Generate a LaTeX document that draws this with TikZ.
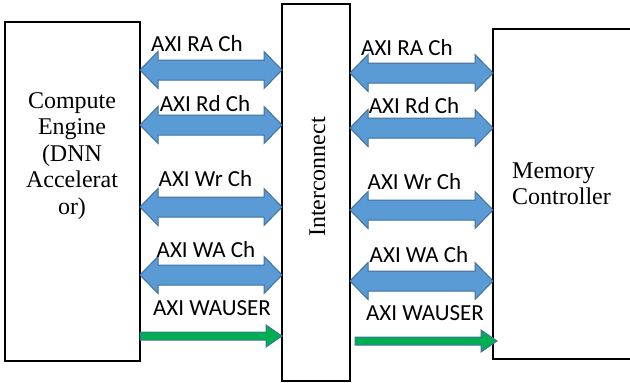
\documentclass[tikz,border=0pt]{standalone}
\usepackage{fontspec}
\setmainfont{Liberation Serif}
\newfontfamily\calfont{Carlito}
\usetikzlibrary{calc}
\definecolor{arrblue}{HTML}{5B9BD5}
\definecolor{arredge}{HTML}{41719C}
\definecolor{arrgreen}{HTML}{00B050}
\tikzset{
  box/.style={draw=black, line width=2pt, fill=white, inner sep=0pt, outer sep=0pt},
  serif/.style={font=\fontsize{24}{26.5}\selectfont, inner sep=0pt, align=center},
  chlabel/.style={font=\calfont\fontsize{23}{26}\selectfont, inner sep=0pt},
  bluearrow/.style={fill=arrblue, draw=arredge, line width=1pt, line join=miter},
  greenarrow/.style={fill=arrgreen, draw=arredge, line width=1pt, line join=miter},
}
% double arrow between x of #1 and x of #2 at height #3
\newcommand\dblarrow[3]{%
  \path[bluearrow] let \p1=($(#1)$), \p2=($(#2)$), \p3=(0,#3) in
   (\x1,\y3) -- (\x1+18pt,\y3+18.5pt) -- (\x1+18pt,\y3+10pt) -- (\x2-18pt,\y3+10pt)
   -- (\x2-18pt,\y3+18.5pt) -- (\x2,\y3) -- (\x2-18pt,\y3-18.5pt) -- (\x2-18pt,\y3-10pt)
   -- (\x1+18pt,\y3-10pt) -- (\x1+18pt,\y3-18.5pt) -- cycle;}
% single green arrow
\newcommand\grnarrow[3]{%
  \path[greenarrow] let \p1=($(#1)$), \p2=($(#2)$), \p3=(0,#3) in
   (\x1,\y3+4pt) -- (\x2-16pt,\y3+4pt) -- (\x2-16pt,\y3+11pt) -- (\x2,\y3)
   -- (\x2-16pt,\y3-11pt) -- (\x2-16pt,\y3-4pt) -- (\x1,\y3-4pt) -- cycle;}
\begin{document}
\begin{tikzpicture}[x=1pt,y=-1pt]
\useasboundingbox (0,0) rectangle (630,383);
% boxes
\node[box, minimum width=135pt, minimum height=339pt] (ce) at (72.5,191.5) {};
\node[box, minimum width=68pt, minimum height=377pt] (ic) at (316,192.5) {};
\coordinate (mcw) at (493,194);
\draw[black, line width=2pt] (645,29) -- (493,29) -- (493,359) -- (645,359);
% box texts
\node[serif] (cetext) at (72,156) {Compute\\Engine\\(DNN\\Accelerat\\or)};
\node[serif, rotate=90] (ictext) at (317.5,177) {Interconnect};
\node[serif, align=left, anchor=west] (mctext) at (512,184) {Memory\\Controller};
% left arrows
\coordinate (lA) at (142,0);
\coordinate (lB) at (284,0);
\coordinate (rA) at (350,0);
\coordinate (rB) at (493,0);
\dblarrow{ce.east}{ic.west}{70}
\dblarrow{ce.east}{ic.west}{125}
\dblarrow{ce.east}{ic.west}{207}
\dblarrow{ce.east}{ic.west}{275}
\grnarrow{ce.east}{ic.west}{336}
% right arrows
\dblarrow{ic.east}{mcw}{73}
\dblarrow{ic.east}{mcw}{128}
\dblarrow{ic.east}{mcw}{210}
\dblarrow{ic.east}{mcw}{281}
\grnarrow{$(ic.east)+(5,0)$}{$(mcw)+(4,0)$}{341}
% labels
\node[chlabel] (l1) at (197,43.5) {AXI RA Ch};
\node[chlabel] (l2) at (205,104) {AXI Rd Ch};
\node[chlabel] (l3) at (205.5,179) {AXI Wr Ch};
\node[chlabel] (l4) at (206,250) {AXI WA Ch};
\node[chlabel] (l5) at (212,308) {AXI WAUSER};
\node[chlabel] (r1) at (407,47.5) {AXI RA Ch};
\node[chlabel] (r2) at (414,106) {AXI Rd Ch};
\node[chlabel] (r3) at (414.5,182) {AXI Wr Ch};
\node[chlabel] (r4) at (419,254.5) {AXI WA Ch};
\node[chlabel] (r5) at (425,313.5) {AXI WAUSER};
\end{tikzpicture}
\end{document}
